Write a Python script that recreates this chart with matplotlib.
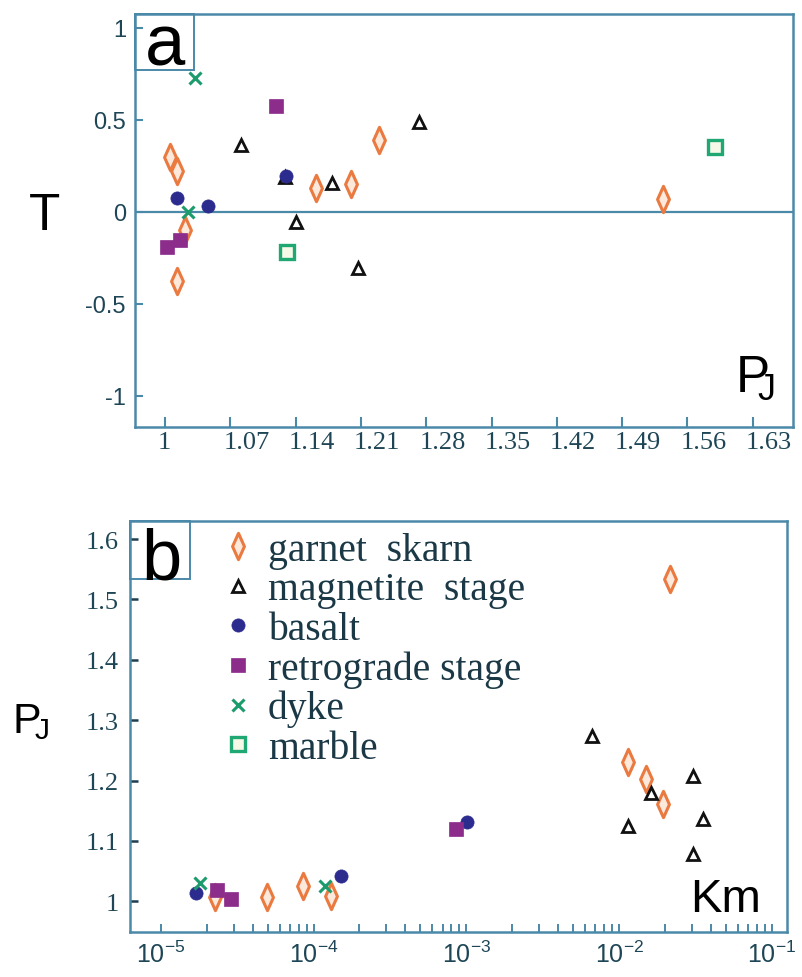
import matplotlib
matplotlib.use("Agg")
import matplotlib.pyplot as plt
import matplotlib.transforms as mtransforms
from matplotlib.path import Path
from matplotlib.patches import Rectangle
from matplotlib.lines import Line2D
from matplotlib.ticker import FixedLocator, FixedFormatter, NullFormatter

# ---------------- panel a: P_J versus T ----------------
garnet_pj_a = [1.005, 1.013, 1.021, 1.013, 1.162, 1.199, 1.229, 1.534]
garnet_t_a = [0.296, 0.223, -0.099, -0.374, 0.128, 0.151, 0.390, 0.070]
magnetite_pj_a = [1.081, 1.129, 1.179, 1.272, 1.140, 1.207]
magnetite_t_a = [0.365, 0.189, 0.155, 0.490, -0.054, -0.307]
basalt_pj_a = [1.013, 1.046, 1.130]
basalt_t_a = [0.073, 0.030, 0.196]
retro_pj_a = [1.119, 1.002, 1.016]
retro_t_a = [0.577, -0.193, -0.152]
dyke_pj_a = [1.032, 1.025]
dyke_t_a = [0.727, 0.0]
marble_pj_a = [1.131, 1.590]
marble_t_a = [-0.220, 0.351]

# ---------------- panel b: Km versus P_J ----------------
garnet_km_b = [2.25e-5, 4.94e-5, 8.49e-5, 1.31e-4, 2.15e-2, 1.138e-2, 1.50e-2, 1.946e-2]
garnet_pj_b = [1.008, 1.007, 1.025, 1.009, 1.534, 1.230, 1.203, 1.161]
magnetite_km_b = [6.62e-3, 1.61e-2, 3.03e-2, 1.148e-2, 3.52e-2, 3.03e-2]
magnetite_pj_b = [1.274, 1.180, 1.208, 1.125, 1.137, 1.078]
basalt_km_b = [1.70e-5, 1.51e-4, 1.007e-3]
basalt_pj_b = [1.013, 1.042, 1.131]
retro_km_b = [2.34e-5, 2.88e-5, 8.57e-4]
retro_pj_b = [1.019, 1.004, 1.120]
dyke_km_b = [1.81e-5, 1.19e-4]
dyke_pj_b = [1.031, 1.025]

legend_labels = ["garnet  skarn", "magnetite  stage", "basalt",
                 "retrograde stage", "dyke", "marble"]

t_ticks = [-1, -0.5, 0, 0.5, 1]
t_ticklabels = ["-1", "-0.5", "0", "0.5", "1"]
pj_ticks_a = [1, 1.07, 1.14, 1.21, 1.28, 1.35, 1.42, 1.49, 1.56, 1.63]
pj_ticklabels_a = ["1", "1.07", "1.14", "1.21", "1.28", "1.35", "1.42", "1.49", "1.56", "1.63"]
pj_ticks_b = [1.0, 1.1, 1.2, 1.3, 1.4, 1.5, 1.6]
pj_ticklabels_b = ["1", "1.1", "1.2", "1.3", "1.4", "1.5", "1.6"]
km_decades = [-5, -4, -3, -2, -1]

# ---------------- styling ----------------
W, H, DPI = 803, 978, 100
SPINE = "#4b89a9"
LABEL = "#1e4656"
plt.rcParams["mathtext.default"] = "regular"

diamond = Path([(0, 1), (0.45, 0), (0, -1), (-0.45, 0), (0, 1)],
               [Path.MOVETO, Path.LINETO, Path.LINETO, Path.LINETO, Path.CLOSEPOLY])

styles = [
    dict(marker=diamond, ms=19, mfc="#fde9dc", mec="#ea7a40", mew=2.2),
    dict(marker="^", ms=9, mfc="white", mec="#111111", mew=2.0),
    dict(marker="o", ms=9.5, mfc="#2c2b8e", mec="#2c2b8e", mew=0.5),
    dict(marker="s", ms=10.5, mfc="#8c2d8c", mec="#8c2d8c", mew=0.5),
    dict(marker="x", ms=9, mec="#1c9c6c", mew=2.2),
    dict(marker="s", ms=9.5, mfc="#f6f8e8", mec="#1fa874", mew=2.4),
]

fig = plt.figure(figsize=(W / DPI, H / DPI), dpi=DPI)


def px_axes(left, top, right, bottom):
    return fig.add_axes([left / W, 1 - bottom / H, (right - left) / W, (bottom - top) / H])


def ftext(x, y, s, **kw):
    kw.setdefault("family", "Liberation Sans")
    kw.setdefault("va", "baseline")
    kw.setdefault("ha", "left")
    kw.setdefault("color", "black")
    fig.text(x / W, 1 - y / H, s, **kw)


def style_spines(ax):
    for sp in ax.spines.values():
        sp.set_color(SPINE)
        sp.set_linewidth(1.8)


# ================= panel a =================
ax_a = px_axes(135, 15, 793.3, 428.3)
style_spines(ax_a)
ax_a.axhline(0, color=SPINE, lw=1.6, zorder=1)

series_a = [(garnet_pj_a, garnet_t_a), (magnetite_pj_a, magnetite_t_a),
            (basalt_pj_a, basalt_t_a), (retro_pj_a, retro_t_a),
            (dyke_pj_a, dyke_t_a), (marble_pj_a, marble_t_a)]
for (xs, ys), st in zip(series_a, styles):
    ax_a.plot(xs, ys, linestyle="none", zorder=3, **st)

ax_a.set_xlim(0.9678, 1.6735)
ax_a.set_ylim(-1.171, 1.075)
ax_a.set_xticks(pj_ticks_a)
ax_a.set_xticklabels(pj_ticklabels_a, family="Liberation Serif", fontsize=19, color=LABEL)
ax_a.set_yticks(t_ticks)
ax_a.set_yticklabels(t_ticklabels, family="Liberation Sans", fontsize=17, color=LABEL)
ax_a.tick_params(axis="x", direction="in", length=7, width=1.5, color=SPINE, pad=2.5)
ax_a.tick_params(axis="y", direction="in", length=6, width=1.5, color=SPINE, pad=6.5)
shift = mtransforms.ScaledTranslation(-7 / DPI, 0, fig.dpi_scale_trans)
for tk in ax_a.xaxis.get_major_ticks():
    tk.label1.set_horizontalalignment("left")
    tk.label1.set_transform(tk.label1.get_transform() + shift)

ax_a.add_patch(Rectangle((0, 1 - 56 / 413.3), 59 / 658.3, 56 / 413.3,
                         transform=ax_a.transAxes, fill=False, ec=SPINE, lw=1.4,
                         zorder=5, clip_on=False))

# ================= panel b =================
ax_b = px_axes(130, 522, 786.7, 933.3)
style_spines(ax_b)
ax_b.set_xscale("log")

series_b = [(garnet_km_b, garnet_pj_b), (magnetite_km_b, magnetite_pj_b),
            (basalt_km_b, basalt_pj_b), (retro_km_b, retro_pj_b),
            (dyke_km_b, dyke_pj_b)]
for (xs, ys), st in zip(series_b, styles):
    ax_b.plot(xs, ys, linestyle="none", zorder=3, **st)

ax_b.set_xlim(10 ** -5.201, 10 ** -0.903)
ax_b.set_ylim(0.9487, 1.630)
major = [10.0 ** e for e in km_decades]
minor = [k * 10.0 ** e for e in km_decades[:-1] for k in range(2, 10)]
ax_b.xaxis.set_major_locator(FixedLocator(major))
ax_b.xaxis.set_major_formatter(FixedFormatter([r"$10^{%d}$" % e for e in km_decades]))
ax_b.xaxis.set_minor_locator(FixedLocator(minor))
ax_b.xaxis.set_minor_formatter(NullFormatter())
for lbl in ax_b.get_xticklabels():
    lbl.set_family("Liberation Sans")
    lbl.set_fontsize(18)
    lbl.set_color(LABEL)
ax_b.set_yticks(pj_ticks_b)
ax_b.set_yticklabels(pj_ticklabels_b, family="Liberation Serif", fontsize=19, color=LABEL)
ax_b.tick_params(axis="x", which="both", direction="in", length=6, width=1.4,
                 color=SPINE, pad=6)
ax_b.tick_params(axis="y", direction="in", length=5.5, width=1.8, color="#1f3f50", pad=8)

ax_b.add_patch(Rectangle((0, 1 - 58 / 411.3), 60 / 656.7, 58 / 411.3,
                         transform=ax_b.transAxes, fill=False, ec=SPINE, lw=1.4,
                         zorder=5, clip_on=False))

handles = [Line2D([], [], linestyle="none", **st) for st in styles]
ax_b.legend(handles, legend_labels, loc="upper left",
            bbox_to_anchor=(222 / W, 1 - 533 / H), bbox_transform=fig.transFigure,
            frameon=False, borderpad=0.0, borderaxespad=0.0,
            handlelength=0.8, handletextpad=0.36, labelspacing=0.06,
            prop=dict(family="Liberation Serif", size=28.5), labelcolor="#1a3845")

# ================= free labels =================
ftext(45, 230, "T", ha="center", fontsize=37)
ftext(735, 392, r"$P_{\hspace{-0.36}J}$", fontsize=37)
ftext(12, 733, r"$P_{\hspace{-0.23}J}$", fontsize=31)
ftext(690, 911.7, "Km", fontsize=34)
ftext(165, 65, "a", ha="center", fontsize=52)
ftext(161.5, 579, "b", ha="center", fontsize=52)

fig.savefig("out.png", dpi=DPI)
